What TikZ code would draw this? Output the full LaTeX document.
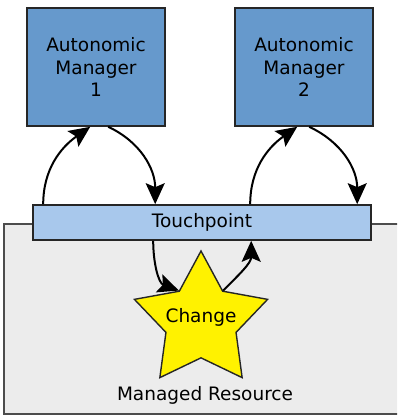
\documentclass[tikz,border=0pt]{standalone}
\usepackage{fontspec}
\setmainfont{DejaVu Sans}
\usetikzlibrary{shapes.geometric,arrows.meta}

\definecolor{amblue}{HTML}{6699CC}
\definecolor{tpblue}{HTML}{A8C8EC}
\definecolor{resgray}{HTML}{ECECEC}

\tikzset{
  manager/.style={draw=black!85,line width=1.6pt,fill=amblue,
    minimum width=138pt,minimum height=118pt,align=center,inner sep=0pt},
  touch/.style={draw=black!85,line width=1.6pt,fill=tpblue,
    minimum width=338pt,minimum height=35pt,inner sep=0pt},
  flux/.style={line width=2pt,-{Stealth[length=21pt,width=19pt,inset=4pt]}}
}

\begin{document}
\begin{tikzpicture}[x=1pt,y=1pt,font=\fontsize{18.5}{22.5}\selectfont]
  \useasboundingbox (0,0) rectangle (397,415);
  % resursa gestionată
  \begin{scope}
    \clip (0,0) rectangle (397,415);
    \draw[black!70,line width=1.2pt,fill=resgray] (4,1) rectangle (430,191);
  \end{scope}
  \node (res) at (205,20) {Managed Resource};

  % managerii
  \node[manager] (am1) at (96,348) {Autonomic\\Manager\\1};
  \node[manager] (am2) at (304,348) {Autonomic\\Manager\\2};

  % punctul de contact
  \node[touch] (tp) at (202,192.5) {Touchpoint};

  % schimbarea
  \node[star,star points=5,star point ratio=1.9,minimum size=140pt,inner sep=0pt,
    draw=black!85,line width=1.4pt,fill=yellow] (change) at (201,94) {};
  \node (chtext) at ([yshift=4pt]change.center) {Change};

  % săgeți sus
  \draw[flux] ([xshift=11pt]tp.north west) to[out=90,in=215] ([xshift=64pt]am1.south west);
  \draw[flux] ([xshift=82pt]am1.south west) to[out=-25,in=90] ([xshift=123pt]tp.north west);
  \draw[flux] ([xshift=218pt]tp.north west) to[out=90,in=215] ([xshift=63pt]am2.south west);
  \draw[flux] ([xshift=75pt]am2.south west) to[out=-25,in=90] ([xshift=325pt]tp.north west);
  % săgeți jos
  \draw[flux] ([xshift=121pt]tp.south west) to[out=-90,in=160] (change.inner point 1);
  \draw[flux] (change.inner point 5) to[out=45,in=-90] ([xshift=219pt]tp.south west);
\end{tikzpicture}
\end{document}
